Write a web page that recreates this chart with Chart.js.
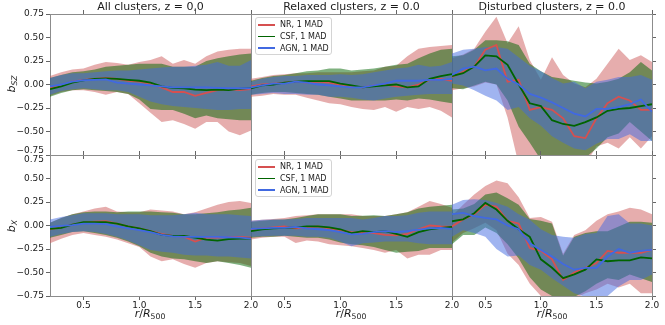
<!DOCTYPE html>
<html>
<head>
<meta charset="utf-8">
<script src="https://cdn.jsdelivr.net/npm/chart.js@4.4.0/dist/chart.umd.min.js"></script>
<style>
  body { margin: 0; background: #fff; }
  #wrap { position: relative; width: 665px; height: 325px; font-family: "DejaVu Sans", sans-serif; color: #1a1a1a; }
  canvas { position: absolute; left: 0; top: 0; }
  .ylab { position: absolute; font-size: 11px; white-space: nowrap; transform: translate(-50%, -50%) rotate(-90deg); line-height: 11px; }
  .xlab { position: absolute; font-size: 11px; white-space: nowrap; transform: translate(-50%, -50%); line-height: 11px; }
  .ylab sub, .xlab sub { font-size: 7.7px; line-height: 0; vertical-align: -2px; }
  .leg { position: absolute; width: 77px; height: 38px; box-sizing: border-box; border: 1px solid #d4d4d4; border-radius: 3px;
         background: rgba(255,255,255,0.8); font-size: 8px; padding: 1px 0 0 2px; }
  .leg .row { height: 11.7px; display: flex; align-items: center; white-space: nowrap; }
  .leg .ln { display: inline-block; width: 17px; height: 1.8px; margin-right: 5px; }
</style>
</head>
<body>
<div id="wrap">
  <canvas id="c00" width="665" height="325"></canvas>
  <canvas id="c01" width="665" height="325"></canvas>
  <canvas id="c02" width="665" height="325"></canvas>
  <canvas id="c10" width="665" height="325"></canvas>
  <canvas id="c11" width="665" height="325"></canvas>
  <canvas id="c12" width="665" height="325"></canvas>

  <div class="ylab" style="left:11px;top:84px"><i>b</i><sub><i>SZ</i></sub></div>
  <div class="ylab" style="left:11px;top:226px"><i>b</i><sub><i>X</i></sub></div>
  <div class="xlab" style="left:150px;top:313px"><i>r</i>/<i>R</i><sub>500</sub></div>
  <div class="xlab" style="left:351px;top:313px"><i>r</i>/<i>R</i><sub>500</sub></div>
  <div class="xlab" style="left:552px;top:313px"><i>r</i>/<i>R</i><sub>500</sub></div>

  <div class="leg" style="left:255px;top:17px">
    <div class="row"><span class="ln" style="background:#d65050"></span>NR, 1 MAD</div>
    <div class="row"><span class="ln" style="background:#006400"></span>CSF, 1 MAD</div>
    <div class="row"><span class="ln" style="background:#4169e1"></span>AGN, 1 MAD</div>
  </div>
  <div class="leg" style="left:255px;top:159px">
    <div class="row"><span class="ln" style="background:#d65050"></span>NR, 1 MAD</div>
    <div class="row"><span class="ln" style="background:#006400"></span>CSF, 1 MAD</div>
    <div class="row"><span class="ln" style="background:#4169e1"></span>AGN, 1 MAD</div>
  </div>
</div>

<script>
// radial bins, r/R500
const r = [0.2, 0.3, 0.4, 0.5, 0.6, 0.7, 0.8, 0.9, 1.0, 1.1, 1.2, 1.3, 1.4, 1.5, 1.6, 1.7, 1.8, 1.9, 2.0];
const xTicks = [0.5, 1.0, 1.5, 2.0];
const yTicks = [-0.75, -0.5, -0.25, 0, 0.25, 0.5, 0.75];
const sims = ['NR', 'CSF', 'AGN'];
const titles = ['All clusters, z = 0,0', 'Relaxed clusters, z = 0.0', 'Disturbed clusters, z = 0.0'];

// b_SZ, all clusters (median, lower, upper)
const szAllNR     = [-0.04, -0.01, 0.03, 0.05, 0.06, 0.07, 0.06, 0.04, 0.03, 0.01, -0.03, -0.08, -0.08, -0.12, -0.09, -0.06, -0.05, -0.06, -0.05];
const szAllNRlo   = [-0.12, -0.08, -0.06, -0.06, -0.08, -0.11, -0.08, -0.10, -0.20, -0.30, -0.40, -0.38, -0.42, -0.47, -0.40, -0.40, -0.50, -0.54, -0.49];
const szAllNRhi   = [0.09, 0.13, 0.16, 0.17, 0.21, 0.24, 0.23, 0.21, 0.24, 0.26, 0.30, 0.22, 0.26, 0.22, 0.30, 0.35, 0.37, 0.38, 0.38];
const szAllCSF    = [-0.05, -0.02, 0.02, 0.045, 0.06, 0.065, 0.06, 0.05, 0.04, 0.02, -0.02, -0.035, -0.04, -0.055, -0.06, -0.055, -0.06, -0.045, -0.035];
const szAllCSFlo  = [-0.13, -0.09, -0.06, -0.05, -0.06, -0.07, -0.08, -0.10, -0.16, -0.26, -0.27, -0.27, -0.31, -0.36, -0.33, -0.36, -0.37, -0.38, -0.38];
const szAllCSFhi  = [0.07, 0.10, 0.13, 0.14, 0.16, 0.19, 0.20, 0.21, 0.22, 0.22, 0.22, 0.19, 0.19, 0.19, 0.25, 0.28, 0.30, 0.32, 0.33];
const szAllAGN    = [-0.02, 0.00, 0.03, 0.045, 0.05, 0.055, 0.02, 0.01, 0.00, -0.01, -0.02, -0.03, -0.03, -0.03, -0.03, -0.035, -0.04, -0.04, -0.04];
const szAllAGNlo  = [-0.11, -0.07, -0.05, -0.04, -0.05, -0.06, -0.06, -0.08, -0.13, -0.18, -0.21, -0.23, -0.24, -0.25, -0.26, -0.27, -0.27, -0.26, -0.26];
const szAllAGNhi  = [0.07, 0.10, 0.12, 0.12, 0.13, 0.14, 0.15, 0.15, 0.16, 0.17, 0.18, 0.19, 0.19, 0.20, 0.21, 0.24, 0.20, 0.20, 0.26];

// b_SZ, relaxed
const szRelNR     = [-0.02, 0.00, 0.01, 0.02, 0.03, 0.02, 0.03, 0.02, 0.00, -0.02, -0.03, -0.01, 0.00, -0.02, -0.03, 0.00, 0.05, 0.06, 0.04];
const szRelNRlo   = [-0.13, -0.12, -0.10, -0.11, -0.11, -0.14, -0.17, -0.20, -0.21, -0.24, -0.26, -0.27, -0.24, -0.29, -0.24, -0.26, -0.24, -0.28, -0.35];
const szRelNRhi   = [0.06, 0.08, 0.10, 0.11, 0.12, 0.12, 0.13, 0.13, 0.13, 0.13, 0.14, 0.15, 0.19, 0.20, 0.30, 0.38, 0.40, 0.41, 0.42];
const szRelCSF    = [-0.04, -0.01, 0.00, 0.02, 0.03, 0.035, 0.035, 0.035, 0.01, -0.01, -0.03, -0.02, -0.01, 0.00, -0.03, -0.02, 0.06, 0.09, 0.11];
const szRelCSFlo  = [-0.11, -0.09, -0.08, -0.08, -0.09, -0.10, -0.11, -0.13, -0.15, -0.17, -0.17, -0.17, -0.17, -0.16, -0.17, -0.15, -0.16, -0.18, -0.20];
const szRelCSFhi  = [0.04, 0.07, 0.09, 0.10, 0.12, 0.14, 0.15, 0.17, 0.17, 0.15, 0.16, 0.17, 0.19, 0.21, 0.22, 0.28, 0.33, 0.37, 0.38];
const szRelAGN    = [-0.03, -0.01, 0.01, 0.01, 0.03, 0.02, 0.00, -0.01, -0.02, -0.03, -0.03, -0.01, 0.01, 0.04, 0.04, 0.04, 0.05, 0.05, 0.06];
const szRelAGNlo  = [-0.11, -0.10, -0.09, -0.10, -0.10, -0.11, -0.11, -0.13, -0.13, -0.14, -0.16, -0.17, -0.15, -0.13, -0.12, -0.11, -0.10, -0.10, -0.10];
const szRelAGNhi  = [0.03, 0.06, 0.08, 0.09, 0.09, 0.10, 0.10, 0.10, 0.11, 0.10, 0.11, 0.13, 0.15, 0.17, 0.18, 0.21, 0.19, 0.20, 0.24];

// b_SZ, disturbed
const szDisNR     = [0.08, 0.135, 0.19, 0.37, 0.42, 0.03, 0.05, -0.27, -0.24, -0.27, -0.36, -0.55, -0.57, -0.36, -0.20, -0.13, -0.17, -0.27, -0.27];
const szDisNRlo   = [-0.06, -0.04, -0.02, 0.02, 0.00, -0.35, -0.85, -0.90, -0.90, -0.90, -0.90, -0.90, -0.85, -0.66, -0.62, -0.68, -0.56, -0.68, -0.55];
const szDisNRhi   = [0.28, 0.32, 0.38, 0.56, 0.72, 0.44, 0.62, 0.26, 0.05, 0.29, 0.10, 0.01, -0.03, 0.06, 0.22, 0.38, 0.26, 0.31, 0.24];
const szDisCSF    = [0.09, 0.12, 0.19, 0.31, 0.30, 0.21, 0.00, -0.20, -0.23, -0.38, -0.42, -0.44, -0.40, -0.35, -0.28, -0.26, -0.25, -0.23, -0.21];
const szDisCSFlo  = [-0.04, -0.05, -0.01, 0.03, 0.00, -0.17, -0.45, -0.62, -0.80, -0.80, -0.80, -0.80, -0.78, -0.68, -0.56, -0.52, -0.40, -0.50, -0.60];
const szDisCSFhi  = [0.30, 0.31, 0.37, 0.47, 0.47, 0.46, 0.42, 0.22, 0.14, 0.08, 0.06, 0.04, 0.02, 0.01, 0.03, 0.06, 0.13, 0.24, 0.15];
const szDisAGN    = [0.10, 0.17, 0.19, 0.15, 0.17, 0.06, 0.00, -0.10, -0.14, -0.19, -0.25, -0.31, -0.34, -0.26, -0.26, -0.24, -0.21, -0.16, -0.29];
const szDisAGNlo  = [0.01, -0.01, -0.06, -0.12, -0.17, -0.27, -0.24, -0.36, -0.44, -0.55, -0.62, -0.68, -0.70, -0.63, -0.58, -0.58, -0.53, -0.60, -0.60];
const szDisAGNhi  = [0.33, 0.37, 0.38, 0.40, 0.40, 0.38, 0.29, 0.20, 0.14, 0.07, 0.01, 0.03, -0.04, 0.03, 0.05, 0.08, 0.08, 0.10, 0.05];

// b_X, all clusters
const xAllNR      = [-0.04, -0.02, 0.01, 0.03, 0.04, 0.045, 0.02, -0.01, -0.03, -0.06, -0.09, -0.11, -0.12, -0.17, -0.13, -0.13, -0.12, -0.12, -0.13];
const xAllNRlo    = [-0.19, -0.14, -0.10, -0.08, -0.10, -0.12, -0.15, -0.19, -0.23, -0.33, -0.38, -0.36, -0.41, -0.45, -0.40, -0.38, -0.39, -0.40, -0.43];
const xAllNRhi    = [0.03, 0.08, 0.12, 0.15, 0.18, 0.20, 0.15, 0.14, 0.14, 0.17, 0.16, 0.15, 0.12, 0.14, 0.18, 0.22, 0.25, 0.26, 0.24];
const xAllCSF     = [-0.035, -0.025, 0.01, 0.035, 0.035, 0.035, 0.02, -0.01, -0.03, -0.06, -0.10, -0.11, -0.11, -0.13, -0.15, -0.16, -0.145, -0.14, -0.14];
const xAllCSFlo   = [-0.13, -0.10, -0.07, -0.06, -0.08, -0.10, -0.13, -0.17, -0.22, -0.29, -0.33, -0.35, -0.36, -0.38, -0.40, -0.38, -0.40, -0.42, -0.45];
const xAllCSFhi   = [0.03, 0.08, 0.12, 0.14, 0.15, 0.15, 0.14, 0.15, 0.15, 0.15, 0.14, 0.135, 0.12, 0.12, 0.13, 0.14, 0.16, 0.17, 0.19];
const xAllAGN     = [-0.015, -0.005, 0.005, 0.02, 0.02, 0.015, -0.01, -0.03, -0.05, -0.07, -0.10, -0.115, -0.12, -0.12, -0.12, -0.12, -0.125, -0.13, -0.14];
const xAllAGNlo   = [-0.12, -0.09, -0.07, -0.06, -0.07, -0.09, -0.12, -0.16, -0.21, -0.26, -0.28, -0.29, -0.31, -0.32, -0.32, -0.33, -0.33, -0.34, -0.35];
const xAllAGNhi   = [0.065, 0.09, 0.11, 0.13, 0.13, 0.13, 0.12, 0.12, 0.12, 0.11, 0.11, 0.11, 0.12, 0.135, 0.12, 0.12, 0.12, 0.11, 0.10];

// b_X, relaxed
const xRelNR      = [-0.04, -0.03, -0.02, -0.01, -0.03, -0.02, -0.01, -0.03, -0.05, -0.07, -0.08, -0.08, -0.10, -0.105, -0.09, -0.04, 0.00, -0.01, -0.015];
const xRelNRlo    = [-0.15, -0.13, -0.12, -0.12, -0.185, -0.16, -0.17, -0.20, -0.21, -0.22, -0.24, -0.26, -0.29, -0.26, -0.35, -0.31, -0.31, -0.26, -0.26];
const xRelNRhi    = [0.05, 0.06, 0.07, 0.08, 0.10, 0.11, 0.12, 0.12, 0.12, 0.12, 0.10, 0.10, 0.10, 0.12, 0.14, 0.20, 0.26, 0.23, 0.19];
const xRelCSF     = [-0.06, -0.04, -0.03, -0.025, -0.02, -0.01, -0.01, -0.02, -0.04, -0.08, -0.06, -0.07, -0.06, -0.09, -0.12, -0.07, -0.04, -0.025, -0.015];
const xRelCSFlo   = [-0.13, -0.12, -0.12, -0.11, -0.12, -0.13, -0.13, -0.15, -0.18, -0.20, -0.21, -0.23, -0.26, -0.29, -0.28, -0.27, -0.24, -0.24, -0.24];
const xRelCSFhi   = [0.04, 0.05, 0.06, 0.065, 0.08, 0.10, 0.12, 0.12, 0.12, 0.10, 0.105, 0.11, 0.10, 0.12, 0.14, 0.18, 0.20, 0.21, 0.22];
const xRelAGN     = [-0.035, -0.03, -0.025, -0.025, -0.015, -0.03, -0.04, -0.05, -0.07, -0.095, -0.09, -0.07, -0.06, -0.07, -0.06, -0.045, -0.03, -0.025, -0.035];
const xRelAGNlo   = [-0.12, -0.115, -0.11, -0.11, -0.11, -0.12, -0.12, -0.13, -0.17, -0.22, -0.19, -0.18, -0.17, -0.17, -0.17, -0.19, -0.20, -0.20, -0.20];
const xRelAGNhi   = [0.05, 0.06, 0.065, 0.065, 0.07, 0.08, 0.08, 0.08, 0.08, 0.08, 0.065, 0.08, 0.10, 0.10, 0.11, 0.135, 0.15, 0.15, 0.15];

// b_X, disturbed
const xDisNR      = [-0.01, 0.065, 0.12, 0.22, 0.20, 0.05, 0.02, -0.24, -0.27, -0.36, -0.58, -0.50, -0.45, -0.40, -0.27, -0.29, -0.29, -0.29, -0.26];
const xDisNRlo    = [-0.18, -0.08, -0.03, 0.03, -0.05, -0.30, -0.42, -0.62, -0.75, -0.80, -0.80, -0.78, -0.72, -0.68, -0.62, -0.66, -0.62, -0.72, -0.72];
const xDisNRhi    = [0.10, 0.22, 0.33, 0.42, 0.48, 0.45, 0.30, 0.08, 0.09, 0.04, -0.30, -0.10, -0.05, 0.05, 0.12, 0.15, 0.19, 0.17, 0.12];
const xDisCSF     = [0.045, 0.065, 0.13, 0.24, 0.17, 0.05, -0.04, -0.12, -0.36, -0.45, -0.56, -0.52, -0.47, -0.36, -0.38, -0.37, -0.37, -0.34, -0.35];
const xDisCSFlo   = [-0.20, -0.10, -0.10, -0.02, -0.08, -0.20, -0.35, -0.55, -0.68, -0.75, -0.80, -0.76, -0.70, -0.62, -0.56, -0.58, -0.52, -0.56, -0.60];
const xDisCSFhi   = [0.17, 0.18, 0.23, 0.33, 0.35, 0.29, 0.22, 0.07, 0.05, 0.02, -0.32, -0.12, -0.08, -0.06, -0.06, -0.01, 0.04, 0.04, 0.03];
const xDisAGN     = [0.12, 0.135, 0.10, 0.08, 0.065, 0.00, -0.04, -0.19, -0.26, -0.33, -0.41, -0.47, -0.45, -0.45, -0.33, -0.25, -0.29, -0.27, -0.26];
const xDisAGNlo   = [-0.12, -0.05, -0.08, -0.12, -0.25, -0.33, -0.32, -0.42, -0.47, -0.56, -0.64, -0.72, -0.76, -0.78, -0.75, -0.65, -0.58, -0.58, -0.52];
const xDisAGNhi   = [0.22, 0.27, 0.28, 0.27, 0.24, 0.20, 0.12, 0.06, -0.04, -0.10, -0.12, -0.13, -0.09, -0.08, 0.10, 0.12, 0.02, 0.02, 0.00];

const FONT = '"DejaVu Sans", sans-serif';
const TXT = '#1a1a1a';
const SPINE = '#8c8c8c';
const TICK = '#666';
const lineCol = ['#d65050', '#006400', '#4169e1'];
const bandCol = ['rgba(205,92,92,0.5)', 'rgba(0,100,0,0.5)', 'rgba(65,105,225,0.5)'];

// panel edges in page pixels
const colL = [50, 251, 452], colR = [251, 452, 652];
const rowT = [14, 155], rowB = [155, 296];

Chart.defaults.font.family = FONT;

const pts = arr => arr.map((y, i) => ({ x: r[i], y: y }));
const fmtY = v => (v < 0 ? '\u2212' : '') + Math.abs(v).toFixed(2);

// axis boxes get a fixed size so the plot areas land on the panel edges;
// an axis with labels owns the whole margin (labels are clipped to the axis box)
function xScale(pos, labels, size) {
  return {
    type: 'linear', position: pos, min: 0.2, max: 2.0,
    afterFit: s => { s.height = size; },
    afterBuildTicks: s => { s.ticks = xTicks.map(v => ({ value: v })); },
    border: { display: true, color: SPINE, width: 1 },
    grid: { display: true, drawOnChartArea: false, drawTicks: true, tickLength: 4, color: TICK },
    ticks: { display: labels, padding: 0, autoSkip: false, maxRotation: 0, color: TXT,
             font: { size: 9 }, callback: v => v.toFixed(1) }
  };
}

function yScale(pos, ticksOn, labels, row, size) {
  return {
    type: 'linear', position: pos, min: -0.75, max: 0.75,
    afterFit: s => { s.width = size; },
    afterBuildTicks: s => { s.ticks = yTicks.map(v => ({ value: v })); },
    border: { display: true, color: SPINE, width: 1 },
    grid: { display: ticksOn, drawOnChartArea: false, drawTicks: ticksOn, tickLength: 4, color: TICK },
    ticks: { display: labels, padding: 2, autoSkip: false, color: TXT,
             font: { size: 9, lineHeight: 1 },
             callback: v => {
               // edge labels at the shared border are nudged apart
               if (row === 0 && v === -0.75) return [fmtY(v), ''];
               if (row === 1 && v === 0.75) return ['', fmtY(v)];
               return fmtY(v);
             } }
  };
}

function drawPanel(id, row, col, sets) {
  const datasets = [];
  sets.forEach((s, i) => {
    datasets.push({ label: sims[i] + ' lower', data: pts(s[1]), borderWidth: 0, pointRadius: 0, fill: false, order: 6 });
    datasets.push({ label: sims[i] + ' upper', data: pts(s[2]), borderWidth: 0, pointRadius: 0,
                    backgroundColor: bandCol[i], fill: '-1', order: 5 - i });
  });
  sets.forEach((s, i) => {
    datasets.push({ label: sims[i] + ', 1 MAD', data: pts(s[0]), borderColor: lineCol[i], borderWidth: 1.8,
                    pointRadius: 0, fill: false, tension: 0, order: 2 - i });
  });

  const leftAxis = col === 0 ? colL[0] : 0;
  const bottomAxis = row === 1 ? 325 - rowB[1] : 0;

  new Chart(document.getElementById(id), {
    type: 'line',
    data: { datasets: datasets },
    options: {
      responsive: false,
      animation: false,
      devicePixelRatio: 1,
      events: [],
      layout: { padding: { left: colL[col] - leftAxis, right: 665 - colR[col],
                           top: row === 0 ? 0 : rowT[row], bottom: 325 - rowB[row] - bottomAxis } },
      plugins: {
        legend: { display: false },
        tooltip: { enabled: false },
        title: { display: row === 0, fullSize: false, text: titles[col], color: TXT,
                 font: { size: 11, weight: 'normal', lineHeight: 1 }, padding: { top: 2, bottom: 1 } }
      },
      scales: {
        x: xScale('bottom', row === 1, bottomAxis),
        xt: xScale('top', false, 0),
        y: yScale('left', col === 0, col === 0, row, leftAxis),
        yr: yScale('right', col === 2, false, row, 0)
      }
    }
  });
}

drawPanel('c00', 0, 0, [[szAllNR, szAllNRlo, szAllNRhi], [szAllCSF, szAllCSFlo, szAllCSFhi], [szAllAGN, szAllAGNlo, szAllAGNhi]]);
drawPanel('c01', 0, 1, [[szRelNR, szRelNRlo, szRelNRhi], [szRelCSF, szRelCSFlo, szRelCSFhi], [szRelAGN, szRelAGNlo, szRelAGNhi]]);
drawPanel('c02', 0, 2, [[szDisNR, szDisNRlo, szDisNRhi], [szDisCSF, szDisCSFlo, szDisCSFhi], [szDisAGN, szDisAGNlo, szDisAGNhi]]);
drawPanel('c10', 1, 0, [[xAllNR, xAllNRlo, xAllNRhi], [xAllCSF, xAllCSFlo, xAllCSFhi], [xAllAGN, xAllAGNlo, xAllAGNhi]]);
drawPanel('c11', 1, 1, [[xRelNR, xRelNRlo, xRelNRhi], [xRelCSF, xRelCSFlo, xRelCSFhi], [xRelAGN, xRelAGNlo, xRelAGNhi]]);
drawPanel('c12', 1, 2, [[xDisNR, xDisNRlo, xDisNRhi], [xDisCSF, xDisCSFlo, xDisCSFhi], [xDisAGN, xDisAGNlo, xDisAGNhi]]);
</script>
</body>
</html>
